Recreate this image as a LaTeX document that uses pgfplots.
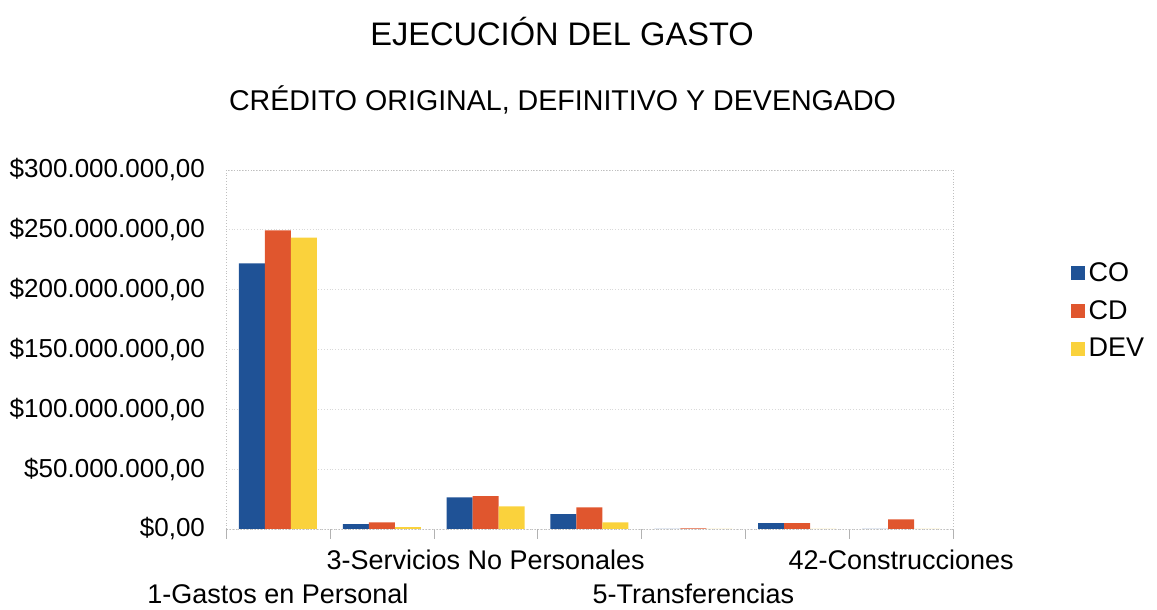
\documentclass[border=0pt]{standalone}
\usepackage{fontspec}
\setmainfont{Liberation Sans}
\usepackage{pgfplots}
\pgfplotsset{compat=1.18}
\definecolor{cCO}{RGB}{31,82,150}
\definecolor{cCD}{RGB}{224,86,46}
\definecolor{cDEV}{RGB}{250,210,60}
\begin{document}
\begin{tikzpicture}
\useasboundingbox (0,0) rectangle (578.5pt,305pt);
\node[font=\fontsize{16.3}{19}\selectfont] at (281pt,289pt) {EJECUCIÓN DEL GASTO};
\node[font=\fontsize{14.3}{17}\selectfont] at (281.25pt,255pt) {CRÉDITO ORIGINAL, DEFINITIVO Y DEVENGADO};
\begin{axis}[
 at={(113pt,40.5pt)}, anchor=south west,
 scale only axis, width=363.5pt, height=179.5pt,
 ybar=0pt, bar width=13pt,
 xmin=-0.5, xmax=6.5, ymin=0, ymax=300,
 xtick={0,4}, xticklabels={1-Gastos en Personal,5-Transferencias},
 extra x ticks={2,6}, extra x tick labels={3-Servicios No Personales,42-Construcciones},
 extra x tick style={major tick length=0pt, xticklabel style={yshift=17pt}},
 xticklabel style={anchor=center, yshift=-32.5pt, font=\fontsize{13.5}{16}\selectfont},
 minor xtick={-0.5,0.5,...,6.5},
 major tick length=0pt, minor tick length=5pt,
 xtick pos=lower, ytick pos=left,
 tick align=outside, tick style={gray!60},
 ytick={0,50,...,300},
 yticklabels={{\$0,00},{\$50.000.000,00},{\$100.000.000,00},{\$150.000.000,00},{\$200.000.000,00},{\$250.000.000,00},{\$300.000.000,00}},
 yticklabel style={xshift=-7pt, font=\fontsize{13}{15}\selectfont},
 ymajorgrids, grid style={densely dotted, gray!30},
 axis line style={densely dotted, gray!50},
 legend style={at={(1.153,0.607)}, anchor=west, draw=none, fill=none, font=\fontsize{13.5}{16}\selectfont, row sep=4pt},
 legend cell align=left,
 legend image code/.code={\fill[#1,draw=none] (0pt,-3.5pt) rectangle (7pt,3.5pt);},
]
\addplot[fill=cCO, draw=none] coordinates {(0,222) (1,4) (2,26.5) (3,12.5) (4,0) (5,5) (6,0)};
\addplot[fill=cCD, draw=none] coordinates {(0,249.5) (1,5.5) (2,27.5) (3,18) (4,0.6) (5,5) (6,8)};
\addplot[fill=cDEV, draw=none] coordinates {(0,243.5) (1,1.5) (2,19) (3,5.5) (4,0) (5,0) (6,0)};
\legend{CO,CD,DEV}
\end{axis}
\end{tikzpicture}
\end{document}
